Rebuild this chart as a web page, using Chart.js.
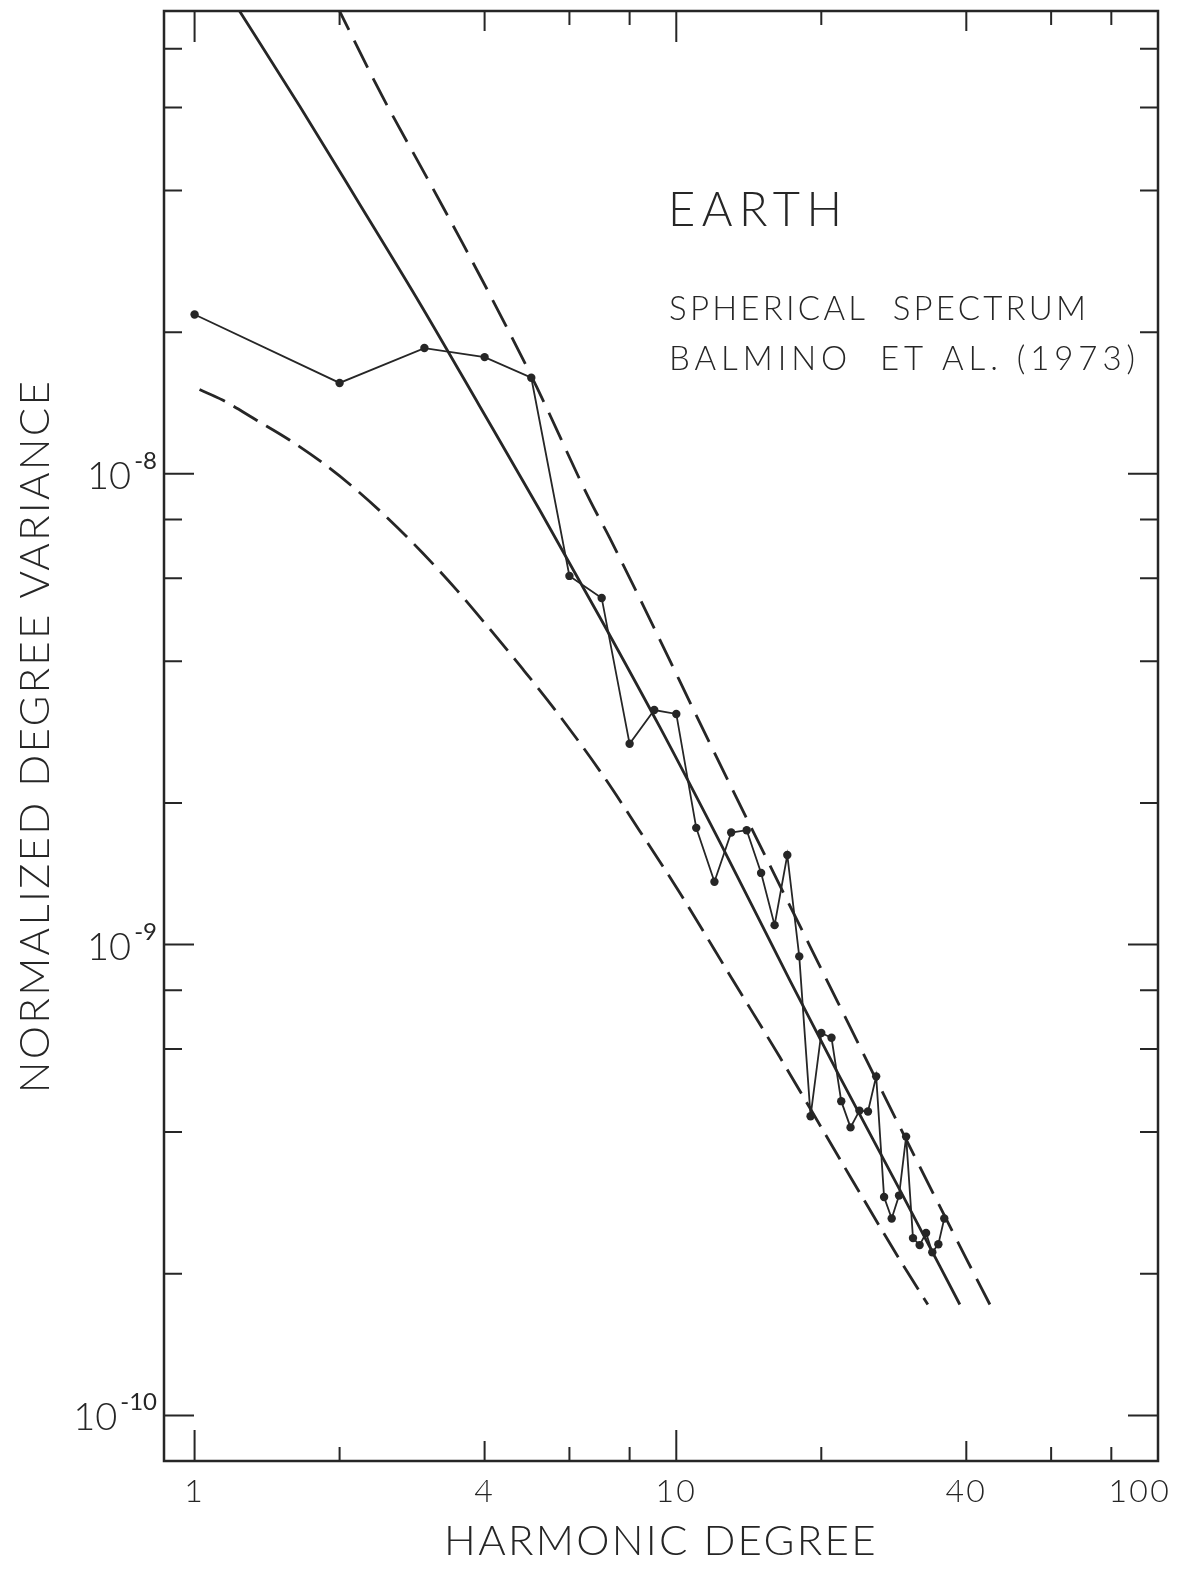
<!DOCTYPE html>
<html>
<head>
<meta charset="utf-8">
<title>Earth spherical spectrum</title>
<script src="https://cdn.jsdelivr.net/npm/chart.js@4.4.1/dist/chart.umd.min.js"></script>
<style>
  html, body { margin: 0; padding: 0; background: #fff; }
  #wrap { position: relative; width: 1186px; height: 1569px; }
</style>
</head>
<body>
<div id="wrap"><canvas id="spectrum"></canvas></div>
<script>
const DEGREES = [1, 2, 3, 4, 5, 6, 7, 8, 9, 10, 11, 12, 13, 14, 15, 16, 17, 18,
  19, 20, 21, 22, 23, 24, 25, 26, 27, 28, 29, 30, 31, 32, 33, 34, 35, 36];
const OBSERVED = [2.18e-8, 1.56e-8, 1.85e-8, 1.77e-8, 1.60e-8, 6.07e-9, 5.45e-9, 2.67e-9,
  3.15e-9, 3.09e-9, 1.77e-9, 1.36e-9, 1.73e-9, 1.75e-9, 1.42e-9, 1.10e-9, 1.55e-9, 9.44e-10,
  4.32e-10, 6.49e-10, 6.34e-10, 4.65e-10, 4.09e-10, 4.44e-10, 4.42e-10, 5.25e-10, 2.91e-10,
  2.62e-10, 2.93e-10, 3.91e-10, 2.38e-10, 2.30e-10, 2.44e-10, 2.22e-10, 2.31e-10, 2.62e-10];

// solid model curve
const MODEL_X = [1.21, 1.652, 2.200, 2.932, 3.905, 5.205, 6.934, 9.24, 12.31, 17.20, 21.63, 29.11, 38.78];
const MODEL_Y = [1.0e-7, 6.045e-8, 3.744e-8, 2.307e-8, 1.394e-8, 8.38e-9, 4.966e-9, 2.90e-9,
  1.652e-9, 8.41e-10, 5.34e-10, 3.013e-10, 1.72e-10];

// upper dashed bound
const UPPER_X = [1.962, 2.457, 3.032, 3.600, 4.157, 5.130, 6.611, 7.274, 12.49, 20.53, 29.11, 40.11, 44.77];
const UPPER_Y = [1.0e-7, 6.32e-8, 4.27e-8, 3.09e-8, 2.34e-8, 1.53e-8, 8.80e-9, 7.31e-9, 2.35e-9,
  8.41e-10, 4.10e-10, 2.14e-10, 1.72e-10];

// lower dashed bound
const LOWER_X = [1.024, 1.143, 1.345, 1.574, 1.844, 2.169, 2.540, 2.975, 3.499, 4.099, 4.798,
  5.645, 7.034, 8.395, 10.16, 13.10, 16.40, 20.14, 22.92, 29.11, 33.28];
const LOWER_Y = [1.51e-8, 1.435e-8, 1.30e-8, 1.18e-8, 1.055e-8, 9.24e-9, 7.98e-9, 6.79e-9, 5.67e-9,
  4.683e-9, 3.851e-9, 3.121e-9, 2.293e-9, 1.744e-9, 1.29e-9, 8.41e-10, 5.77e-10, 4.04e-10,
  3.226e-10, 2.14e-10, 1.72e-10];

// axes
const X_TICKS = [1, 2, 4, 6, 8, 10, 20, 40, 60, 80, 100];
const X_LABELS = [1, 4, 10, 40, 100];
const Y_TICKS = [1e-10, 2e-10, 4e-10, 6e-10, 8e-10, 1e-9, 2e-9, 4e-9, 6e-9, 8e-9,
  1e-8, 2e-8, 4e-8, 6e-8, 8e-8];
const Y_LABELS = [1e-8, 1e-9, 1e-10];

const NOTE_TITLE = "EARTH";
const NOTE_LINES = ["SPHERICAL  SPECTRUM", "BALMINO  ET AL. (1973)"];

const INK = "#262626";
const FONT = "Lato";

const zip = (xs, ys) => xs.map((x, i) => ({ x, y: ys[i] }));
const isDecade = (v) => Math.abs(Math.log10(v) - Math.round(Math.log10(v))) < 1e-6;

// 在给定宽度内写一行字（靠字距撑开）
function spacedText(ctx, text, x, y, width) {
  ctx.letterSpacing = "0px";
  const w = ctx.measureText(text).width;
  const gap = Math.max(0, (width - w) / (text.length - 1));
  ctx.letterSpacing = `${gap}px`;
  ctx.fillText(text, x, y);
}

/**
 * 画框、朝内的刻度、y 轴 10 的幂标签和右上角注释
 */
const framePlugin = {
  id: "frame",
  beforeDraw(chart) {
    // 轴标题字距稍宽
    chart.ctx.letterSpacing = "2.3px";
  },
  beforeDatasetsDraw(chart) {
    chart.ctx.letterSpacing = "0px";
  },
  afterDatasetsDraw(chart) {
    const { ctx, chartArea: a, scales } = chart;
    const x = scales.x;
    const y = scales.y;
    ctx.save();
    ctx.strokeStyle = INK;
    ctx.fillStyle = INK;
    ctx.lineWidth = 2.5;
    ctx.strokeRect(a.left, a.top, a.right - a.left, a.bottom - a.top);

    ctx.lineWidth = 2;
    ctx.beginPath();
    X_TICKS.forEach((v) => {
      const px = x.getPixelForValue(v);
      const len = isDecade(v) ? 31 : X_LABELS.includes(v) ? 20 : 14;
      ctx.moveTo(px, a.bottom);
      ctx.lineTo(px, a.bottom - len);
      ctx.moveTo(px, a.top);
      ctx.lineTo(px, a.top + len);
    });
    Y_TICKS.forEach((v) => {
      const py = y.getPixelForValue(v);
      const len = isDecade(v) ? 30 : 18;
      ctx.moveTo(a.left, py);
      ctx.lineTo(a.left + len, py);
      ctx.moveTo(a.right, py);
      ctx.lineTo(a.right - len, py);
    });
    ctx.stroke();

    // 10^n labels
    ctx.letterSpacing = "0px";
    Y_LABELS.forEach((v) => {
      const py = y.getPixelForValue(v);
      const sup = "-" + String(-Math.round(Math.log10(v)));
      ctx.font = `24px ${FONT}`;
      ctx.textAlign = "right";
      ctx.textBaseline = "alphabetic";
      const supW = ctx.measureText(sup).width;
      ctx.fillText(sup, a.left - 7, py - 5);
      ctx.font = `300 38px ${FONT}`;
      ctx.fillText("10", a.left - 10 - supW, py + 15);
    });

    // annotation
    ctx.textAlign = "left";
    ctx.textBaseline = "alphabetic";
    ctx.font = `300 47px ${FONT}`;
    spacedText(ctx, NOTE_TITLE, 668, 226, 174);
    ctx.font = `300 33px ${FONT}`;
    spacedText(ctx, NOTE_LINES[0], 669, 320, 417);
    spacedText(ctx, NOTE_LINES[1], 669, 370, 466);
    ctx.letterSpacing = "0px";
    ctx.restore();
  },
};

new Chart(document.getElementById("spectrum"), {
  type: "line",
  data: {
    datasets: [
      {
        label: "Balmino et al. (1973)",
        data: zip(DEGREES, OBSERVED),
        borderColor: INK,
        backgroundColor: INK,
        borderWidth: 1.8,
        pointRadius: 4.2,
        pointBorderWidth: 0,
        tension: 0,
        clip: 0,
      },
      {
        label: "model",
        data: zip(MODEL_X, MODEL_Y),
        borderColor: INK,
        borderWidth: 2.8,
        pointRadius: 0,
        cubicInterpolationMode: "monotone",
        clip: 0,
      },
      {
        label: "upper",
        data: zip(UPPER_X, UPPER_Y),
        borderColor: INK,
        borderWidth: 2.8,
        borderDash: [30, 12],
        pointRadius: 0,
        cubicInterpolationMode: "monotone",
        clip: 0,
      },
      {
        label: "lower",
        data: zip(LOWER_X, LOWER_Y),
        borderColor: INK,
        borderWidth: 2.8,
        borderDash: [28, 10],
        pointRadius: 0,
        cubicInterpolationMode: "monotone",
        clip: 0,
      },
    ],
  },
  options: {
    responsive: true,
    maintainAspectRatio: false,
    animation: false,
    layout: { padding: { top: 11, right: 28, bottom: 0, left: 0 } },
    plugins: { legend: { display: false }, tooltip: { enabled: false } },
    scales: {
      x: {
        type: "logarithmic",
        min: 0.864,
        max: 100,
        grid: { display: false, drawTicks: false },
        border: { display: false },
        afterBuildTicks: (s) => {
          s.ticks = X_TICKS.map((v) => ({ value: v }));
        },
        afterFit: (s) => {
          s.height = 108;
          s.paddingLeft = 0;
          s.paddingRight = 0;
        },
        ticks: {
          autoSkip: false,
          maxRotation: 0,
          padding: 11,
          color: INK,
          font: { family: FONT, size: 32, weight: 300 },
          // last label sits a little left of its tick, as in the original
          callback: (v) => (X_LABELS.includes(v) ? (v === 100 ? "100\u2002\u2002" : String(v)) : ""),
        },
        title: {
          display: true,
          text: "HARMONIC DEGREE",
          color: INK,
          font: { family: FONT, size: 42, weight: 300 },
          padding: { top: 0, bottom: 2 },
        },
      },
      y: {
        type: "logarithmic",
        min: 8e-11,
        max: 9.62e-8,
        grid: { display: false, drawTicks: false },
        border: { display: false },
        ticks: { display: false },
        afterFit: (s) => {
          s.width = 164;
          s.paddingTop = 0;
          s.paddingBottom = 0;
        },
        title: {
          display: true,
          text: "NORMALIZED DEGREE VARIANCE",
          color: INK,
          font: { family: FONT, size: 42, weight: 300 },
          padding: { top: 10, bottom: 0 },
        },
      },
    },
  },
  plugins: [framePlugin],
});
</script>
</body>
</html>
